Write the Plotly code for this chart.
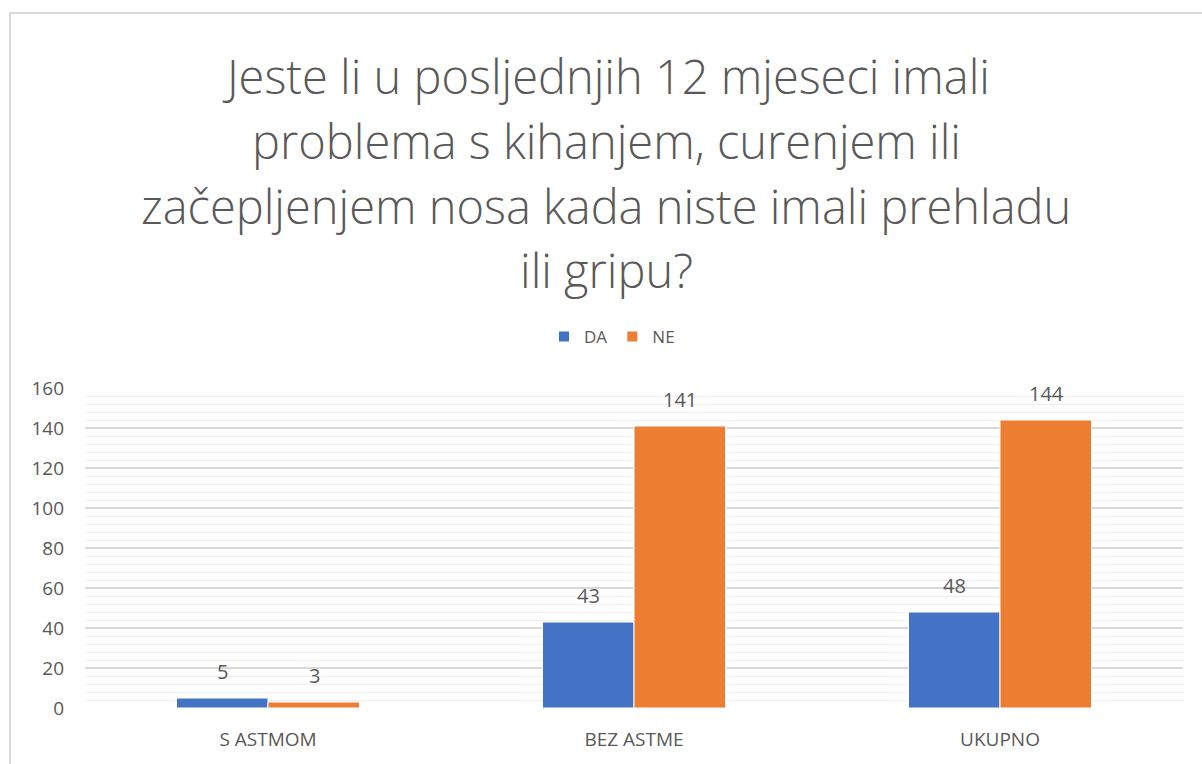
import plotly.graph_objects as go

categories = ["S ASTMOM", "BEZ ASTME", "UKUPNO"]
da_values = [5, 43, 48]
ne_values = [3, 141, 144]
series_names = ["DA", "NE"]
title_lines = [
    "Jeste li u posljednjih 12 mjeseci imali",
    "problema s kihanjem, curenjem ili",
    "začepljenjem nosa kada niste imali prehladu",
    "ili gripu?",
]
y_ticks = [0, 20, 40, 60, 80, 100, 120, 140, 160]

W, H = 1202, 764
L, R, T, B = 85, 19, 388, 56
pw, ph = W - L - R, H - T - B

def px_to_paper_y(py):
    return 1 - (py - T) / ph

def px_to_paper_x(px):
    return (px - L) / pw

colors = ["#4472C4", "#ED7D31"]
FONT = "Open Sans"
TXT = "#595959"

fig = go.Figure()
for name, vals, col in zip(series_names, [da_values, ne_values], colors):
    fig.add_trace(go.Bar(
        x=categories, y=vals, name=name,
        marker=dict(color=col, line=dict(color="white", width=1)),
    ))

annotations = []
title_y = [76, 141, 206, 270]
for line, py in zip(title_lines, title_y):
    annotations.append(dict(
        text=line, xref="paper", yref="paper",
        x=px_to_paper_x(606), y=px_to_paper_y(py),
        xanchor="center", yanchor="middle", showarrow=False,
        font=dict(family=FONT, size=47, color=TXT, weight=300),
    ))
for vals, shift in [(da_values, -46), (ne_values, 46)]:
    for c, v in zip(categories, vals):
        annotations.append(dict(
            text=str(v), x=c, y=v, xref="x", yref="y",
            xshift=shift, yshift=11, yanchor="bottom", showarrow=False,
            font=dict(family=FONT, size=20, color=TXT),
        ))

fig.update_layout(
    width=W, height=H,
    margin=dict(l=L, r=R, t=T, b=B),
    paper_bgcolor="white", plot_bgcolor="white",
    barmode="group", bargap=0.5, bargroupgap=0,
    font=dict(family=FONT, color=TXT, size=16),
    showlegend=True,
    legend=dict(
        orientation="h", x=px_to_paper_x(612), xanchor="center",
        y=px_to_paper_y(337), yanchor="middle",
        font=dict(family=FONT, size=17, color=TXT),
        itemsizing="constant", itemwidth=30,
    ),
    annotations=annotations,
    shapes=[dict(
        type="rect", xref="paper", yref="paper",
        x0=px_to_paper_x(10), y0=px_to_paper_y(800),
        x1=px_to_paper_x(1240), y1=px_to_paper_y(13),
        line=dict(color="#d9d9d9", width=2), fillcolor="rgba(0,0,0,0)",
        layer="below",
    )],
)
fig.update_xaxes(
    showline=False, showgrid=False, ticks="",
    tickfont=dict(family=FONT, size=19, color=TXT),
    ticklabelstandoff=18,
)
fig.update_yaxes(
    range=[0, 160], tickvals=y_ticks, showline=False, zeroline=False,
    showgrid=True, gridcolor="#d9d9d9", gridwidth=1.5,
    minor=dict(dtick=4, showgrid=True, gridcolor="#efefef", gridwidth=1.2),
    tickfont=dict(family=FONT, size=19, color=TXT),
    ticklabelstandoff=20,
)

fig.write_html(
    "out.html",
    config={"displayModeBar": False},
    post_script="document.body.style.margin='0';document.body.style.overflow='hidden';",
)
